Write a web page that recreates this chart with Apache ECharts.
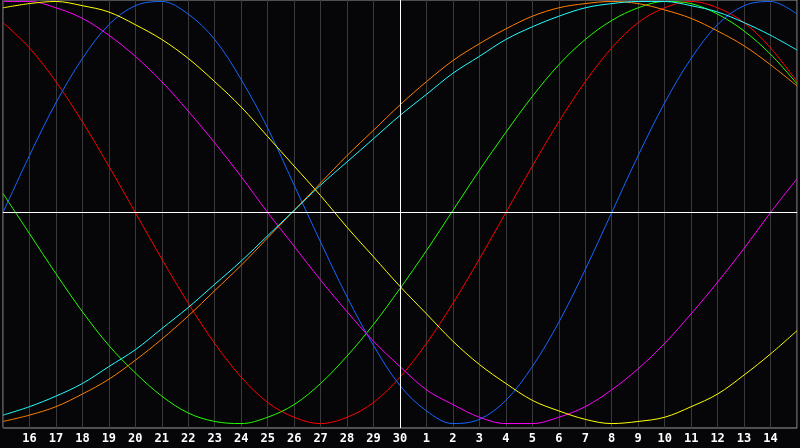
<!DOCTYPE html>
<html>
<head>
<meta charset="utf-8">
<script src="https://cdn.jsdelivr.net/npm/echarts@6/dist/echarts.min.js"></script>
<style>
  html, body { margin: 0; padding: 0; background: #060608; }
  #chart { width: 800px; height: 448px; }
</style>
</head>
<body>
<div id="chart"></div>
<script>
// Day labels (first and last are window edges, not labelled)
const days = ['15','16','17','18','19','20','21','22','23','24','25','26','27','28','29','30',
              '1','2','3','4','5','6','7','8','9','10','11','12','13','14','15'];

const redValues = [0.90,0.78,0.62,0.43,0.22,0,-0.22,-0.43,-0.62,-0.78,-0.90,-0.97,-1,
  -0.97,-0.90,-0.78,-0.62,-0.43,-0.22,0,0.22,0.43,0.62,0.78,0.90,0.97,1,0.97,0.90,0.78,0.62];
const greenValues = [0.09,-0.10,-0.29,-0.47,-0.63,-0.76,-0.87,-0.95,-0.99,-1.00,-0.97,-0.91,
  -0.81,-0.68,-0.53,-0.36,-0.18,0.01,0.20,0.38,0.55,0.70,0.82,0.91,0.97,1.00,0.99,0.94,0.86,0.75,0.61];
const blueValues = [0.00,0.27,0.52,0.73,0.89,0.98,1.00,0.94,0.82,0.63,0.40,0.13,-0.14,-0.40,
  -0.63,-0.82,-0.94,-1.00,-0.98,-0.89,-0.73,-0.52,-0.27,0.00,0.27,0.52,0.73,0.89,0.98,1.00,0.94];
const magentaValues = [1.00,1.00,0.97,0.92,0.84,0.74,0.62,0.48,0.33,0.17,0.00,-0.16,-0.32,
  -0.47,-0.61,-0.73,-0.84,-0.91,-0.97,-1.00,-1.00,-0.97,-0.92,-0.84,-0.74,-0.62,-0.48,-0.33,-0.17,0.00,0.16];
const yellowValues = [0.97,0.99,1.00,0.98,0.95,0.89,0.82,0.73,0.62,0.50,0.36,0.22,0.08,-0.07,
  -0.21,-0.35,-0.48,-0.61,-0.72,-0.81,-0.89,-0.94,-0.98,-1.00,-0.99,-0.97,-0.92,-0.86,-0.77,-0.67,-0.56];
const orangeValues = [-0.99,-0.96,-0.92,-0.86,-0.79,-0.70,-0.60,-0.49,-0.37,-0.25,-0.12,0.01,
  0.14,0.27,0.39,0.51,0.62,0.72,0.80,0.87,0.93,0.97,0.99,1.00,0.99,0.96,0.92,0.86,0.79,0.70,0.60];
const cyanValues = [-0.96,-0.92,-0.87,-0.81,-0.73,-0.65,-0.55,-0.45,-0.34,-0.23,-0.11,0.01,
  0.13,0.24,0.35,0.46,0.56,0.66,0.74,0.82,0.88,0.93,0.97,0.99,1.00,1.00,0.98,0.95,0.90,0.84,0.77];

const todayLabel = '30';

const chart = echarts.init(document.getElementById('chart'), null, { renderer: 'canvas' });

function line(name, data, color, extra) {
  return Object.assign({
    name: name,
    type: 'line',
    data: data,
    smooth: 0.35,
    showSymbol: false,
    symbol: 'none',
    silent: true,
    lineStyle: { color: color, width: 1 },
    z: 3
  }, extra || {});
}

chart.setOption({
  animation: false,
  backgroundColor: '#060608',
  grid: {
    left: 0, right: -1, top: 0, bottom: 20,
    show: true,
    borderColor: '#9a9a9a',
    borderWidth: 1,
    backgroundColor: 'transparent'
  },
  xAxis: {
    type: 'category',
    data: days,
    boundaryGap: false,
    axisLine: { show: true, lineStyle: { color: '#9a9a9a', width: 1 } },
    axisTick: { show: false },
    splitLine: { show: true, interval: 0, lineStyle: { color: '#3a3a3c', width: 1 } },
    axisLabel: {
      interval: 0,
      margin: 5,
      color: '#ffffff',
      fontFamily: 'DejaVu Sans Mono',
      fontWeight: 'bold',
      fontSize: 12,
      formatter: function (v, i) { return (i === 0 || i === days.length - 1) ? '' : v; }
    }
  },
  yAxis: {
    type: 'value',
    min: -1.021,
    max: 1.007,
    axisLine: { show: false },
    axisTick: { show: false },
    axisLabel: { show: false },
    splitLine: { show: false }
  },
  series: [
    line('guide', [], '#ffffff', {
      z: 2,
      markLine: {
        silent: true,
        symbol: ['none', 'none'],
        label: { show: false },
        lineStyle: { color: '#ffffff', width: 1, type: 'solid' },
        data: [ { yAxis: 0 }, { xAxis: todayLabel } ]
      }
    }),
    line('red', redValues, '#ff0000'),
    line('green', greenValues, '#22ff00'),
    line('blue', blueValues, '#1466ff'),
    line('magenta', magentaValues, '#ff00ff'),
    line('yellow', yellowValues, '#ffff00'),
    line('orange', orangeValues, '#ff7f00'),
    line('cyan', cyanValues, '#22ffff')
  ]
});
</script>
</body>
</html>
